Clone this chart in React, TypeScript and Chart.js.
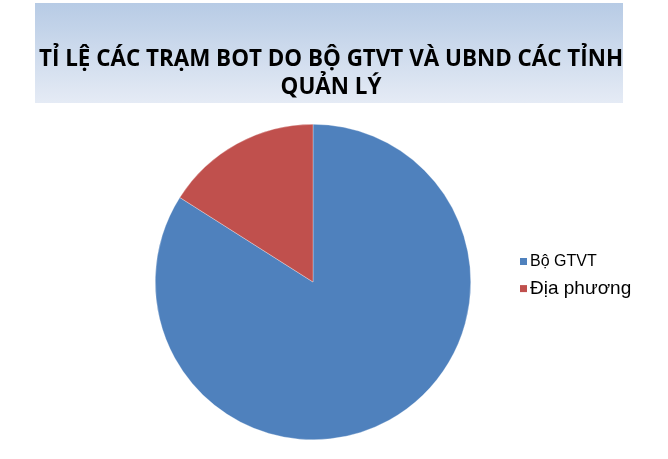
import React, { useEffect, useRef } from "react";
import { Chart, registerables } from "chart.js";

Chart.register(...registerables);

const categories: string[] = ["Bộ GTVT", "Địa phương"];
const shares: number[] = [84, 16];
const sliceColors: string[] = ["#4f81bd", "#c0504d"];
const titleLines: string[] = ["TỈ LỆ CÁC TRẠM BOT DO BỘ GTVT VÀ UBND CÁC TỈNH", "QUẢN LÝ"];
const legendFontSizes: number[] = [16, 19];

const titleBackground = {
  id: "titleBackground",
  afterLayout(chart: any) {
    const t = chart.titleBlock;
    if (t) {
      t.left = 35;
      t.right = 627;
    }
  },
  beforeDraw(chart: any) {
    const ctx = chart.ctx;
    const x0 = 35, x1 = 623, y0 = 3, y1 = 103;
    const g = ctx.createLinearGradient(0, y0, 0, y1);
    g.addColorStop(0, "#b7cbe5");
    g.addColorStop(1, "#e5ebf5");
    ctx.save();
    ctx.fillStyle = g;
    ctx.fillRect(x0, y0, x1 - x0, y1 - y0);
    ctx.restore();
  },
};

const sideLegend = {
  id: "sideLegend",
  afterDraw(chart: any) {
    const ctx = chart.ctx;
    const labels: string[] = chart.data.labels;
    const colors: string[] = chart.data.datasets[0].backgroundColor;
    const boxX = 520, boxSize = 7, textX = 530;
    const baselines = [266, 294];
    ctx.save();
    labels.forEach((label, i) => {
      const size = legendFontSizes[i];
      const base = baselines[i];
      ctx.fillStyle = colors[i];
      const boxTop = base - 8 - (size - 16) * 0.3;
      ctx.fillRect(boxX, boxTop, boxSize, boxSize);
      ctx.fillStyle = "#000000";
      ctx.font = `${size}px 'Liberation Sans', Arial, sans-serif`;
      ctx.textBaseline = "alphabetic";
      ctx.textAlign = "left";
      ctx.fillText(label, textX, base);
    });
    ctx.restore();
  },
};

export default function App() {
  const ref = useRef<HTMLCanvasElement>(null);
  useEffect(() => {
    if (!ref.current) return;
    const chart = new Chart(ref.current, {
      type: "pie",
      data: {
        labels: categories,
        datasets: [
          {
            data: shares,
            backgroundColor: sliceColors,
            borderColor: "rgba(255,255,255,0.6)",
            borderWidth: 0.5,
          },
        ],
      },
      options: {
        responsive: false,
        animation: false,
        layout: { padding: { left: 0, right: 42, top: 0, bottom: 19 } },
        plugins: {
          tooltip: { enabled: false },
          title: {
            display: true,
            text: titleLines,
            color: "#000000",
            font: { family: "'Open Sans', sans-serif", size: 22.4, weight: "bold", lineHeight: 28 / 22.4 },
            padding: { top: 46, bottom: 22 },
          },
          legend: { display: false },
        },
      },
      plugins: [titleBackground, sideLegend],
    });
    return () => chart.destroy();
  }, []);
  return (
    <div style={{ position: "absolute", left: 0, top: 0, width: 668, height: 459, background: "#fff" }}>
      <canvas ref={ref} width={668} height={459} style={{ width: 668, height: 459 }} />
    </div>
  );
}
